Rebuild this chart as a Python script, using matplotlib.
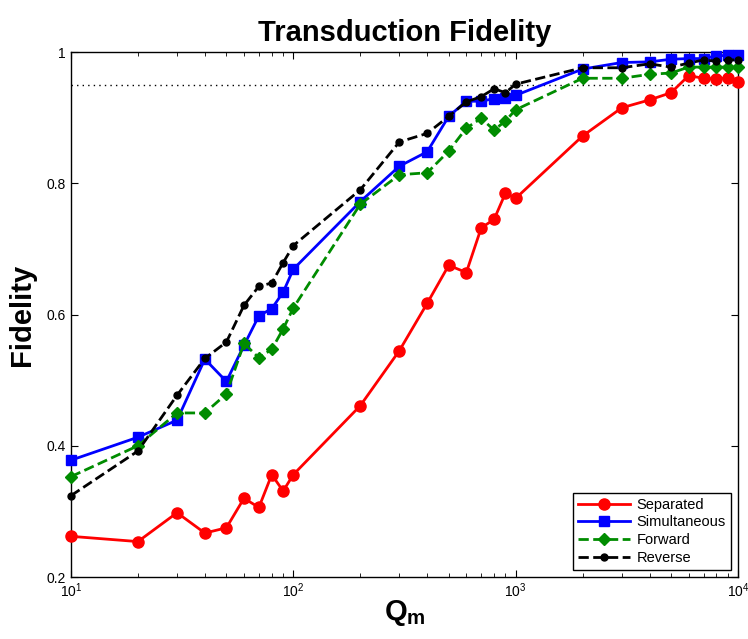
import numpy as np
import matplotlib.pyplot as plt
from matplotlib.ticker import LogLocator, NullFormatter

plt.rcParams['font.family'] = ['Liberation Sans', 'DejaVu Sans']
plt.rcParams['mathtext.fontset'] = 'custom'
plt.rcParams['mathtext.bf'] = 'Liberation Sans:bold'
plt.rcParams['mathtext.rm'] = 'Liberation Sans'

# Q_m values
q_m = [10, 20, 30, 40, 50, 60, 70, 80, 90, 100,
       200, 300, 400, 500, 600, 700, 800, 900, 1000,
       2000, 3000, 4000, 5000, 6000, 7000, 8000, 9000, 10000]

separated = [0.262, 0.254, 0.298, 0.267, 0.275, 0.320, 0.306, 0.356, 0.331, 0.356,
             0.461, 0.545, 0.617, 0.675, 0.664, 0.732, 0.745, 0.785, 0.777,
             0.872, 0.915, 0.927, 0.938, 0.964, 0.960, 0.959, 0.961, 0.954]
simultaneous = [0.378, 0.413, 0.439, 0.532, 0.498, 0.553, 0.598, 0.609, 0.634, 0.669,
                0.772, 0.826, 0.848, 0.902, 0.925, 0.925, 0.929, 0.930, 0.934,
                0.974, 0.984, 0.985, 0.989, 0.990, 0.990, 0.994, 0.995, 0.995]
forward = [0.353, 0.400, 0.450, 0.450, 0.479, 0.556, 0.534, 0.547, 0.578, 0.610,
           0.768, 0.813, 0.816, 0.849, 0.884, 0.899, 0.881, 0.895, 0.912,
           0.960, 0.960, 0.966, 0.968, 0.977, 0.977, 0.977, 0.977, 0.977]
reverse = [0.324, 0.392, 0.477, 0.533, 0.558, 0.614, 0.643, 0.648, 0.679, 0.705,
           0.790, 0.863, 0.876, 0.902, 0.924, 0.932, 0.944, 0.938, 0.951,
           0.976, 0.976, 0.982, 0.977, 0.983, 0.988, 0.986, 0.988, 0.988]

threshold = 0.95

fig = plt.figure(figsize=(7.48, 6.39), dpi=100)
ax = fig.add_axes([0.0949, 0.097, 0.8917, 0.8216])

ax.plot(q_m, separated, '-', color='#ff0000', marker='o', markersize=8, linewidth=2,
        label='Separated', clip_on=False, zorder=3)
ax.plot(q_m, simultaneous, '-', color='#0000ff', marker='s', markersize=7, linewidth=2,
        label='Simultaneous', clip_on=False, zorder=3)
ax.plot(q_m, forward, '--', color='#008c00', marker='D', markersize=6.5, linewidth=2,
        label='Forward', clip_on=False, zorder=3)
ax.plot(q_m, reverse, '--', color='black', marker='o', markersize=5, linewidth=2,
        label='Reverse', clip_on=False, zorder=3)
ax.axhline(threshold, color='black', linestyle=(0, (1, 3)), linewidth=1)

ax.set_xscale('log')
ax.set_xlim(10, 10000)
ax.set_ylim(0.2, 1.0)
ax.set_yticks([0.2, 0.4, 0.6, 0.8, 1.0])
ax.set_yticklabels(['0.2', '0.4', '0.6', '0.8', '1'])
ax.xaxis.set_minor_locator(LogLocator(base=10, subs=np.arange(2, 10)))
ax.xaxis.set_minor_formatter(NullFormatter())

ax.tick_params(which='both', direction='in', top=True, right=True, labelsize=10)
ax.tick_params(which='major', length=5)
ax.tick_params(which='minor', length=3)
for s in ax.spines.values():
    s.set_linewidth(1)

ax.set_title('Transduction Fidelity', fontsize=21, fontweight='bold', pad=8)
ax.set_xlabel('$\\mathbf{Q_m}$', fontsize=21, labelpad=-2)
ax.set_ylabel('Fidelity', fontsize=21, fontweight='bold', labelpad=8)

leg = ax.legend(loc='lower right', fontsize=10.5, fancybox=False, framealpha=1,
                edgecolor='black', borderaxespad=0.5, handlelength=3.6,
                borderpad=0.35, labelspacing=0.25, handletextpad=0.4)
leg.get_frame().set_linewidth(1)

fig.savefig('out.png', dpi=100)
